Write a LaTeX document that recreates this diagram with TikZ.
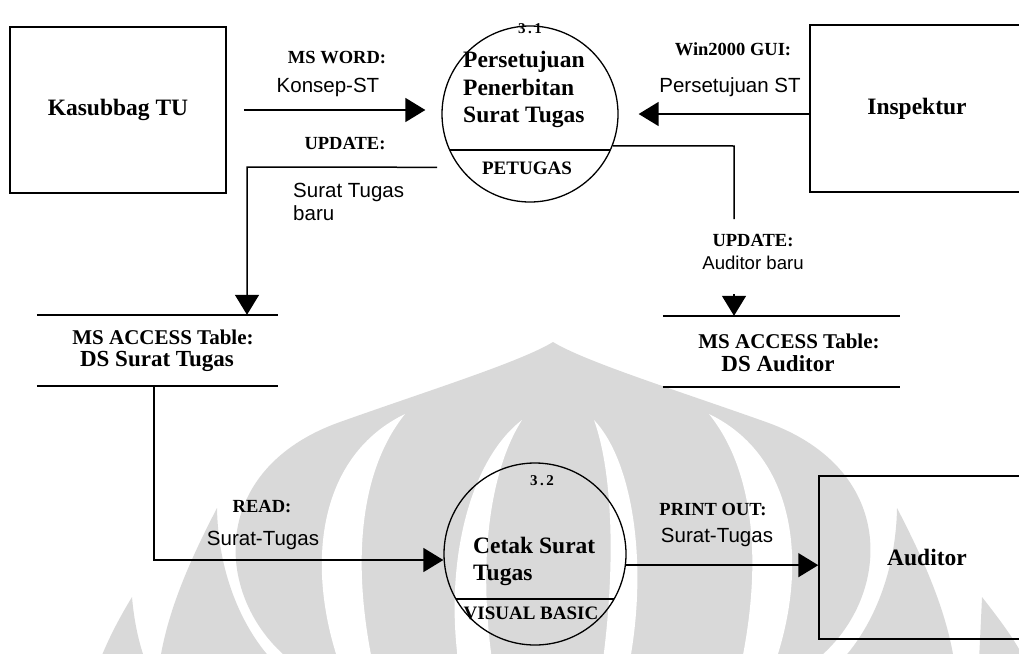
\documentclass[tikz,border=0pt]{standalone}
\usepackage{fontspec}
\setmainfont{Liberation Serif}
\newfontfamily\arialfont{Liberation Sans}
\usetikzlibrary{arrows.meta,calc}

\tikzset{
  wm/.style={fill=black!15, draw=none},
  wmgap/.style={fill=white, draw=none},
  entity/.style={draw, line width=1.5pt, rectangle, inner sep=0pt,
    font=\bfseries\fontsize{23.5}{27}\selectfont},
  proc/.style={draw, line width=1.3pt, circle, inner sep=0pt},
  procline/.style={line width=1.3pt},
  storeline/.style={line width=1.5pt},
  storebox/.style={rectangle, inner sep=0pt},
  storetop/.style={inner sep=0pt, font=\bfseries\fontsize{21}{24}\selectfont},
  storename/.style={inner sep=0pt, font=\bfseries\fontsize{23}{26}\selectfont},
  flowline/.style={line width=1.5pt},
  flow/.style={line width=1.5pt, -{Triangle[length=20pt,width=24pt]}},
  tag/.style={inner sep=0pt, font=\bfseries\fontsize{18.5}{21}\selectfont},
  data/.style={inner sep=0pt, font=\arialfont\fontsize{20.5}{23}\selectfont},
  smalldata/.style={inner sep=0pt, font=\arialfont\fontsize{18.6}{21}\selectfont},
  pnum/.style={inner sep=0pt, font=\bfseries\fontsize{15}{17}\selectfont},
  ptitle/.style={inner sep=0pt, align=left, font=\bfseries\fontsize{23.5}{27.5}\selectfont},
  ptool/.style={inner sep=0pt, font=\bfseries\fontsize{19}{22}\selectfont},
}

\begin{document}
\begin{tikzpicture}[x=1pt,y=-1pt]
\useasboundingbox (0,0) rectangle (1019,653);
\clip (0,0) rectangle (1019,653);

% background emblem
\fill[wm] (290,660) .. controls (215,600) and (205,470) .. (340,422)
  .. controls (430,390) and (520,362) .. (553,342)
  .. controls (586,362) and (676,390) .. (766,422)
  .. controls (901,470) and (891,600) .. (816,660) -- cycle;
\fill[wmgap] (405,414) .. controls (320,455) and (305,560) .. (338,660)
  -- (372,660) .. controls (352,560) and (360,470) .. (405,414) -- cycle;
\fill[wmgap] (709,414) .. controls (794,455) and (809,560) .. (776,660)
  -- (742,660) .. controls (762,560) and (754,470) .. (709,414) -- cycle;
\fill[wmgap] (522,420) .. controls (470,460) and (445,560) .. (458,660)
  -- (492,660) .. controls (478,560) and (490,470) .. (522,420) -- cycle;
\fill[wmgap] (594,420) .. controls (632,460) and (648,560) .. (630,660)
  -- (603,660) .. controls (616,560) and (612,470) .. (594,420) -- cycle;
\fill[wm] (217,508) .. controls (190,560) and (168,610) .. (160,660)
  -- (272,660) .. controls (240,625) and (218,570) .. (217,508) -- cycle;
\fill[wm] (897,508) .. controls (924,560) and (946,610) .. (954,660)
  -- (842,660) .. controls (874,625) and (896,570) .. (897,508) -- cycle;
\fill[wm] (132,597) .. controls (118,620) and (108,640) .. (100,660)
  -- (145,660) .. controls (138,640) and (134,620) .. (132,597) -- cycle;
\fill[wm] (982,597) .. controls (1000,620) and (1015,640) .. (1025,660)
  -- (979,660) .. controls (980,640) and (981,620) .. (982,597) -- cycle;

% external entities
\node[entity, minimum width=216pt, minimum height=166pt] (kas) at (118,110) {Kasubbag TU};
\node[entity, minimum width=214pt, minimum height=167pt] (insp) at (917,108.5) {Inspektur};
\node[entity, minimum width=216pt, minimum height=163pt] (aud) at (927,557.5) {Auditor};

% processes
\node[proc, minimum size=176pt] (p1) at (530,114) {};
\draw[procline] ($(p1.center)+(-80.3,36)$) -- ($(p1.center)+(80.3,36)$);
\node[pnum] (p1n) at (530,29) {3\,.\,1};
\node[ptitle, anchor=west] (p1t) at (463,89.5) {Persetujuan\\Penerbitan\\Surat Tugas};
\node[ptool] (p1k) at (527,168) {PETUGAS};

\node[proc, minimum size=182pt] (p2) at (535,554) {};
\draw[procline] ($(p2.center)+(-79.1,45)$) -- ($(p2.center)+(79.1,45)$);
\node[pnum] (p2n) at (542,481) {3\,.\,2};
\node[ptitle, anchor=west] (p2t) at (473,561.5) {Cetak Surat\\Tugas};
\node[ptool] (p2k) at (531,613) {VISUAL BASIC};

% data stores
\node[storebox, minimum width=241pt, minimum height=71pt] (ds1) at (157.5,350.5) {};
\draw[storeline] (ds1.north west) -- (ds1.north east);
\draw[storeline] (ds1.south west) -- (ds1.south east);
\node[storetop] (ds1a) at (163,337.5) {MS ACCESS Table:};
\node[storename] (ds1b) at (157,361.5) {DS Surat Tugas};

\node[storebox, minimum width=237pt, minimum height=71pt] (ds2) at (781.5,351.5) {};
\draw[storeline] (ds2.north west) -- (ds2.north east);
\draw[storeline] (ds2.south west) -- (ds2.south east);
\node[storetop] (ds2a) at (789,341) {MS ACCESS Table:};
\node[storename] (ds2b) at (778,364) {DS Auditor};

% bend and break points of the flows
\coordinate (c1) at (247,167);
\coordinate (c2) at (734,146);
\coordinate (c2a) at (734,219);
\coordinate (c2b) at (734,294);
\coordinate (c3) at (154,560);

% data flows
\draw[flow, shorten <=17pt, shorten >=16pt] (kas.east) -- (kas.east -| p1.west);
\draw[flow, shorten >=20pt] (insp.west |- p1.east) -- (p1.east);
\draw[flow, shorten <=22pt] (p1.217) -- (c1) -- (c1 |- ds1.north);
\draw[flowline] (p1.339) -- (c2) -- (c2a);
\draw[flow] (c2b) -- (c2b |- ds2.north);
\draw[flow] (c3 |- ds1.south) -- (c3) -- (c3 -| p2.west);
\draw[flow] (p2.-7.6) -- (p2.-7.6 -| aud.west);

% flow labels
\node[tag] (l1a) at (337,58) {MS WORD:};
\node[data] (l1b) at (328,87) {Konsep-ST};
\node[tag] (l2a) at (733,49) {Win2000 GUI:};
\node[data] (l2b) at (730,87) {Persetujuan ST};
\node[tag] (l3a) at (345,144) {UPDATE:};
\node[data, align=left, anchor=west] (l3b) at (293,201.5) {Surat Tugas\\baru};
\node[tag] (l4a) at (753,241) {UPDATE:};
\node[smalldata] (l4b) at (753,263) {Auditor baru};
\node[tag] (l5a) at (262,507) {READ:};
\node[data] (l5b) at (263,540) {Surat-Tugas};
\node[tag] (l6a) at (713,509) {PRINT OUT:};
\node[data] (l6b) at (717,537) {Surat-Tugas};
\end{tikzpicture}
\end{document}
